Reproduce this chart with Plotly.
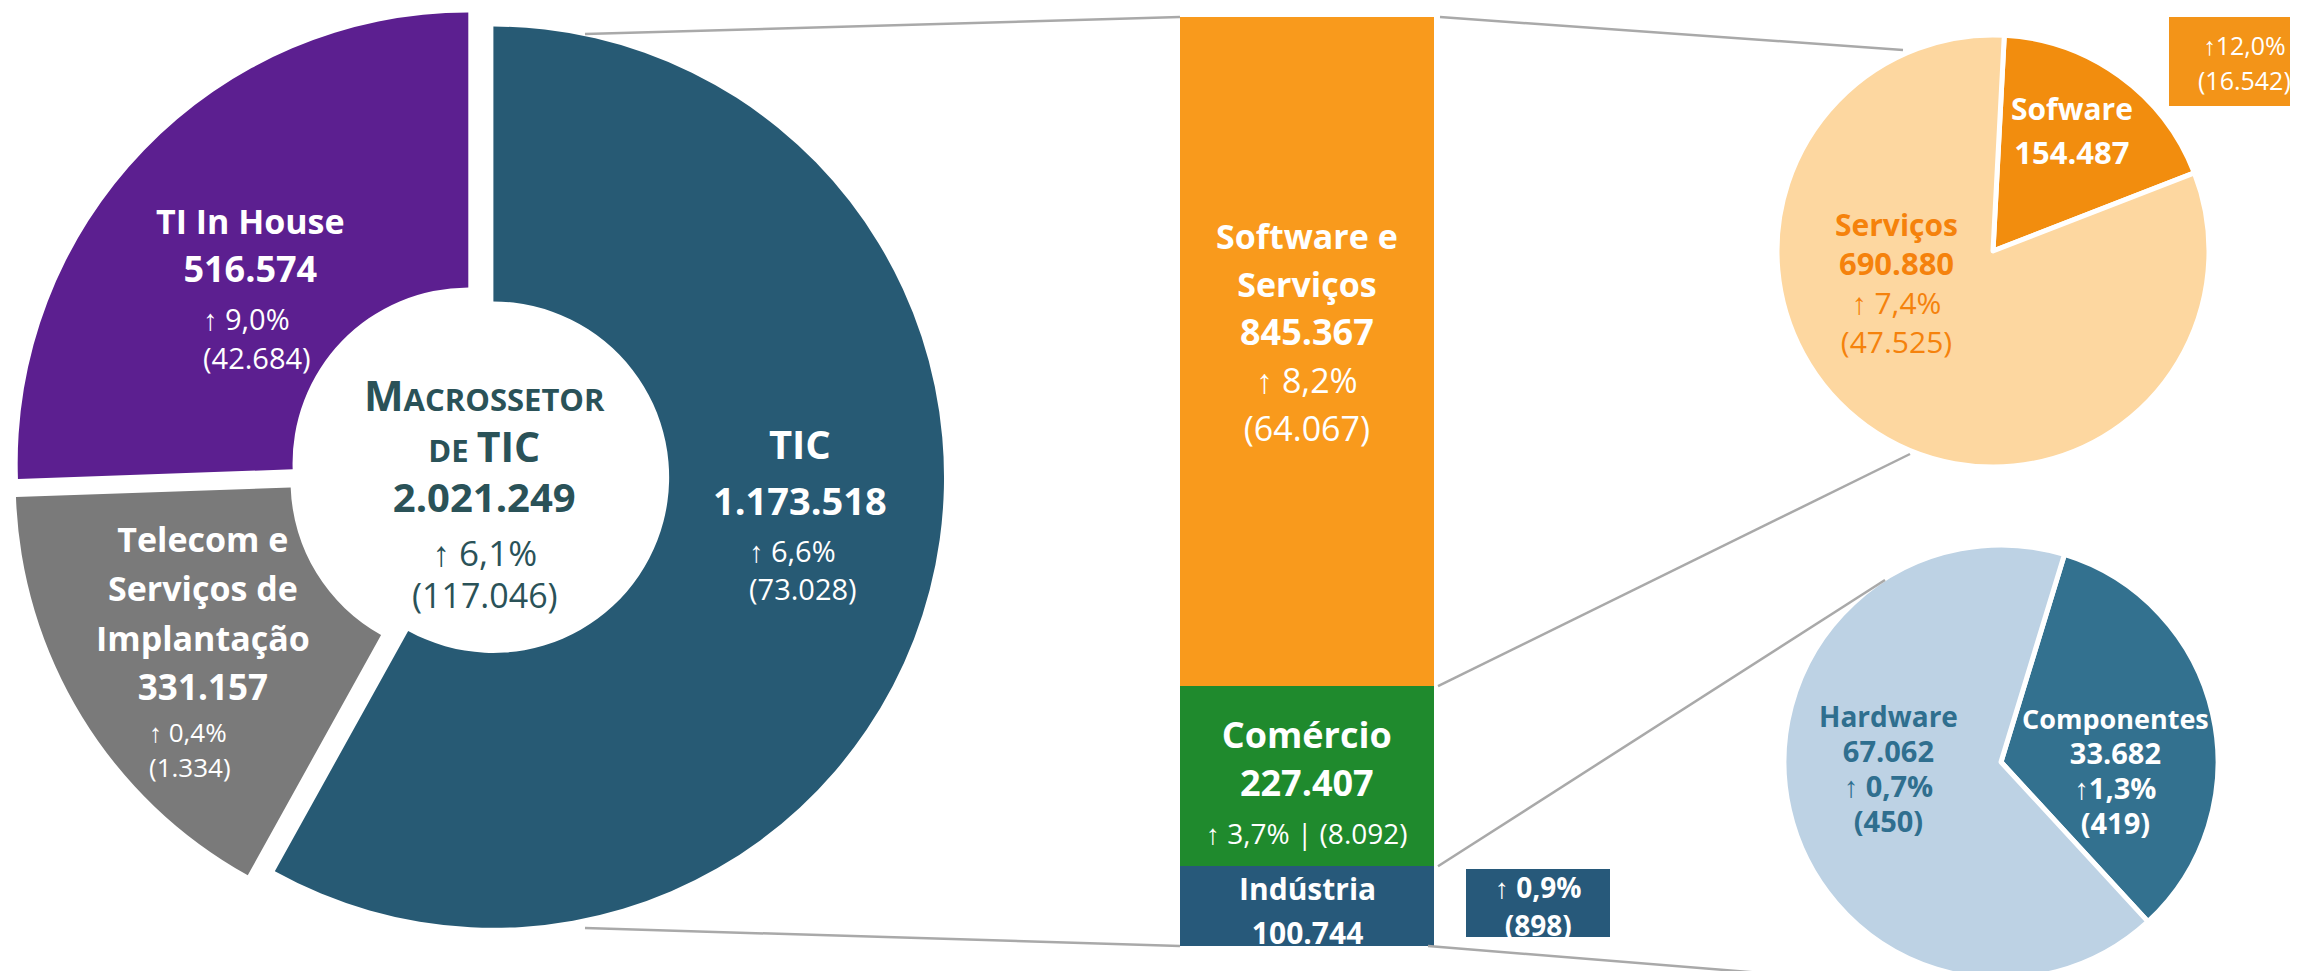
import plotly.graph_objects as go

W, H = 2298, 971

# ---------------- data ----------------
macro_labels = ["TIC", "Telecom e Serviços de Implantação", "TI In House"]
macro_values = [1173518, 331157, 516574]
macro_growth_pct = [6.6, 0.4, 9.0]
macro_growth_abs = [73028, 1334, 42684]
macro_total = 2021249
macro_total_pct = 6.1
macro_total_abs = 117046

tic_labels = ["Indústria", "Comércio", "Software e Serviços"]
tic_values = [100744, 227407, 845367]
tic_growth_pct = [0.9, 3.7, 8.2]
tic_growth_abs = [898, 8092, 64067]

ss_labels = ["Sofware", "Serviços"]
ss_values = [154487, 690880]
ss_growth_pct = [12.0, 7.4]
ss_growth_abs = [16542, 47525]

hw_labels = ["Componentes", "Hardware"]
hw_values = [33682, 67062]
hw_growth_pct = [1.3, 0.7]
hw_growth_abs = [419, 450]


def num(v):
    return f"{v:,}".replace(",", ".")


def pct(p):
    return f"{p:.1f}".replace(".", ",") + "%"


def X(p):
    return p / W


def Y(p):
    return 1 - p / H


FONT = "Open Sans"
TEAL_TXT = "#2a5258"
GREY_LINE = "#a9a9a9"

fig = go.Figure()

# ---------------- left donut ----------------
fig.add_trace(go.Pie(
    labels=macro_labels, values=macro_values, sort=False, direction="clockwise",
    rotation=0, hole=0.39, pull=[0.033, 0.033, 0.033],
    marker=dict(colors=["#275a74", "#7a7a7a", "#5c1f90"], line=dict(width=0)),
    textinfo="none", hoverinfo="label+value", showlegend=False,
    domain=dict(x=[X(5), X(937)], y=[Y(931), Y(0)]),
))

# ---------------- Software e Serviços pie ----------------
fig.add_trace(go.Pie(
    labels=ss_labels, values=ss_values, sort=False, direction="clockwise",
    rotation=3,
    marker=dict(colors=["#f28d0e", "#fdd7a0"], line=dict(width=5, color="white")),
    textinfo="none", hoverinfo="label+value", showlegend=False,
    domain=dict(x=[X(1769), X(2201)], y=[Y(459), Y(27)]),
))

# ---------------- Indústria pie ----------------
fig.add_trace(go.Pie(
    labels=hw_labels, values=hw_values, sort=False, direction="clockwise",
    rotation=17,
    marker=dict(colors=["#33718f", "#bdd2e4"], line=dict(width=5, color="white")),
    textinfo="none", hoverinfo="label+value", showlegend=False,
    domain=dict(x=[X(1776), X(2210)], y=[Y(971), Y(537)]),
))

# ---------------- stacked bar ----------------
bar_colors = ["#27597a", "#1f8a2d", "#f99a1c"]
for lab, val, col in zip(tic_labels, tic_values, bar_colors):
    fig.add_trace(go.Bar(
        x=[0], y=[val], name=lab, width=1, marker=dict(color=col, line=dict(width=0)),
        hoverinfo="name+y", showlegend=False, xaxis="x", yaxis="y",
    ))

tic_total = sum(tic_values)
bar_x0, bar_x1 = X(1172), X(1426)
bar_y0, bar_y1 = Y(938), Y(9)


def ybar(v):
    return bar_y0 + v / tic_total * (bar_y1 - bar_y0)


fig.update_layout(
    width=W, height=H, margin=dict(l=0, r=0, t=0, b=0),
    paper_bgcolor="white", plot_bgcolor="white",
    barmode="stack", bargap=0,
    xaxis=dict(domain=[bar_x0, bar_x1], range=[-0.5, 0.5], visible=False, fixedrange=True),
    yaxis=dict(domain=[bar_y0, bar_y1], range=[0, tic_total], visible=False, fixedrange=True),
    showlegend=False,
)

# ---------------- connector lines ----------------
cum_ind = tic_values[0]
cum_com = tic_values[0] + tic_values[1]
lines = [
    (X(577), Y(26), bar_x0, ybar(tic_total)),
    (X(577), Y(920), bar_x0, ybar(0)),
    (bar_x1 + X(6), ybar(tic_total), X(1895), Y(42)),
    (bar_x1 + X(4), ybar(cum_com), X(1902), Y(446)),
    (bar_x1 + X(4), ybar(cum_ind), X(1877), Y(572)),
    (bar_x1 - X(6), ybar(0), X(1900), Y(977)),
]
for x0, y0, x1, y1 in lines:
    fig.add_shape(type="line", xref="paper", yref="paper", x0=x0, y0=y0, x1=x1, y1=y1,
                  line=dict(color=GREY_LINE, width=2.5))

# small growth boxes
fig.add_shape(type="rect", xref="paper", yref="paper", x0=X(2161), x1=X(2298), y0=Y(98), y1=Y(9),
              fillcolor="#f39418", line=dict(width=0))
fig.add_shape(type="rect", xref="paper", yref="paper", x0=X(1458), x1=X(1602), y0=Y(929), y1=Y(861),
              fillcolor="#27597a", line=dict(width=0))

annotations = []


def group(x, y_first, y_last, items, base, color, anchor="center"):
    """items: list of (text, size, bold). Lines spaced 1.3*base."""
    parts = []
    for text, size, bold in items:
        t = f"<b>{text}</b>" if bold else text
        parts.append(f"<span style='font-size:{size}px'>{t}</span>")
    annotations.append(dict(
        x=X(x), y=Y((y_first + y_last) / 2), xref="paper", yref="paper",
        text="<br>".join(parts), showarrow=False, align=anchor,
        xanchor=anchor, yanchor="middle",
        font=dict(family=FONT, size=base, color=color),
    ))


W_ = "white"
# left donut labels
group(242, 213, 262, [(macro_labels[2], 34, True), (num(macro_values[2]), 36, True)], 37, W_)
group(193, 310, 349, [("↑ " + pct(macro_growth_pct[2]), 29, False),
                      (f"({num(macro_growth_abs[2])})", 29, False)], 30, W_, "left")

group(195, 531, 679, [("Telecom e", 34, True), ("Serviços de", 34, True),
                      ("Implantação", 34, True), (num(macro_values[1]), 35, True)], 38, W_)
group(139, 724, 759, [("↑ " + pct(macro_growth_pct[1]), 26, False),
                      (f"({num(macro_growth_abs[1])})", 26, False)], 27, W_, "left")

group(792, 435, 491, [(macro_labels[0], 40, True), (num(macro_values[0]), 38, True)], 43, W_)
group(739, 542, 580, [("↑ " + pct(macro_growth_pct[0]), 29, False),
                      (f"({num(macro_growth_abs[0])})", 29, False)], 29, W_, "left")

group(476, 387, 488, [("<span style='font-size:42px'>M</span>ACROSSETOR", 31, True),
                      ("DE <span style='font-size:41px'>TIC</span>", 31, True),
                      (num(macro_total), 40, True)], 39, TEAL_TXT)
group(477, 544, 586, [("↑ " + pct(macro_total_pct), 35, False),
                      (f"({num(macro_total_abs)})", 34, False)], 32, TEAL_TXT)

# bar labels
bx = 1299
group(bx, 227, 420, [("Software e", 34, True), ("Serviços", 34, True),
                     (num(tic_values[2]), 36, True), ("↑ " + pct(tic_growth_pct[2]), 34, False),
                     (f"({num(tic_growth_abs[2])})", 34, False)], 37, W_)
group(bx, 724, 821, [(tic_labels[1], 36, True), (num(tic_values[1]), 36, True),
                     ("↑ " + pct(tic_growth_pct[1]) + f" | ({num(tic_growth_abs[1])})", 28, False)],
      37, W_)
group(bx, 880, 924, [(tic_labels[0], 30, True), (num(tic_values[0]), 30, True)], 34, W_)
group(1530, 879, 917, [("↑ " + pct(tic_growth_pct[0]), 28, True),
                       (f"({num(tic_growth_abs[0])})", 28, True)], 29, W_)

# Software e Serviços pie labels
ORANGE_TXT = "#f5820c"
group(2064, 100, 144, [(ss_labels[0], 30, True), (num(ss_values[0]), 31, True)], 34, W_)
group(2236, 37, 72, [("↑" + pct(ss_growth_pct[0]), 25, False),
                     (f"({num(ss_growth_abs[0])})", 25, False)], 27, W_)
group(1888, 216, 334, [(ss_labels[1], 30, True), (num(ss_values[1]), 31, True),
                       ("↑ " + pct(ss_growth_pct[1]), 30, False),
                       (f"({num(ss_growth_abs[1])})", 30, False)], 30, ORANGE_TXT)

# Indústria pie labels
BLUE_TXT = "#2f6f8f"
group(1880, 707, 813, [(hw_labels[1], 28, True), (num(hw_values[1]), 29, True),
                       ("↑ " + pct(hw_growth_pct[1]), 29, True),
                       (f"({num(hw_growth_abs[1])})", 29, True)], 27, BLUE_TXT)
group(2107, 710, 815, [(hw_labels[0], 27, True), (num(hw_values[0]), 29, True),
                       ("↑" + pct(hw_growth_pct[0]), 29, True),
                       (f"({num(hw_growth_abs[0])})", 29, True)], 27, W_)

fig.update_layout(annotations=annotations)

fig.write_html("out.html")
